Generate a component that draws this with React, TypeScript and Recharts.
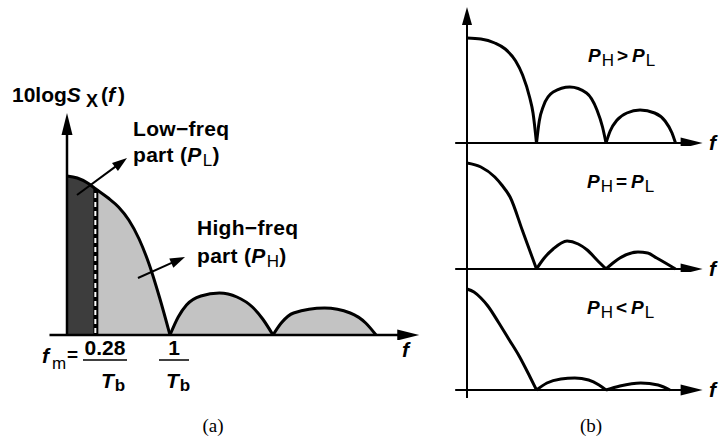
import React from 'react';
import { ComposedChart, Area, Line, XAxis, YAxis, ReferenceLine } from 'recharts';

// Panel (a): spectrum lobes, frequency in units of 1/Tb, level in plot units
const aLobe1Freq = [0, 0.1, 0.2, 0.28, 0.4, 0.5, 0.6, 0.7, 0.8, 0.9, 1.0];
const aLobe1Level = [159, 157, 152, 146, 137, 128, 115, 96, 70, 37, 0];
const aLobe2Freq = [1.0, 1.08, 1.16, 1.3, 1.48, 1.65, 1.8, 1.9, 2.0];
const aLobe2Level = [0, 18, 30, 39, 42, 38, 28, 16, 0];
const aLobe3Freq = [2.0, 2.08, 2.2, 2.5, 2.75, 2.9, 3.0];
const aLobe3Level = [0, 12, 22, 27, 22, 12, 0];
const fm = 0.28;

// Panel (b): three spectra with different high/low power balance
const b1Lobe1Freq = [0, 0.2, 0.4, 0.55, 0.7, 0.8, 0.9, 0.95, 1.0];
const b1Lobe1Level = [105, 104, 100, 94, 82, 68, 46, 30, 0];
const b1Lobe2Freq = [1.0, 1.04, 1.1, 1.24, 1.48, 1.72, 1.87, 1.95, 2.0];
const b1Lobe2Level = [0, 22, 37, 51, 56, 50, 33, 16, 0];
const b1Lobe3Freq = [2.0, 2.06, 2.16, 2.3, 2.49, 2.7, 2.85, 2.95, 3.0];
const b1Lobe3Level = [0, 12, 23, 30, 33, 30, 22, 10, 0];

const b2Lobe1Freq = [0, 0.2, 0.4, 0.5, 0.62, 0.8, 0.9, 1.0];
const b2Lobe1Level = [106, 102, 92, 84, 72, 38, 19, 0];
const b2Lobe2Freq = [1.0, 1.1, 1.24, 1.44, 1.6, 1.73, 1.87, 2.0];
const b2Lobe2Level = [0, 10, 20, 28, 25, 19, 9, 0];
const b2Lobe3Freq = [2.0, 2.1, 2.2, 2.46, 2.6, 2.73, 2.88, 3.0];
const b2Lobe3Level = [0, 6, 11, 17, 16, 11, 5, 0];

const b3Lobe1Freq = [0, 0.1, 0.2, 0.3, 0.45, 0.6, 0.75, 0.9, 1.0];
const b3Lobe1Level = [101, 98, 92, 84, 68, 51, 34, 14, 0];
const b3Lobe2Freq = [1.0, 1.15, 1.35, 1.55, 1.75, 1.9, 2.0];
const b3Lobe2Level = [0, 7, 11, 12, 10, 5, 0];
const b3Lobe3Freq = [2.0, 2.2, 2.5, 2.75, 2.92];
const b3Lobe3Level = [0, 4, 7, 5, 0];

const rows = (f: number[], v: number[]) => f.map((x, i) => ({ f: x, v: v[i] }));

const DARK = '#3d3d3d';
const LIGHT = '#c3c3c3';
const SANS = '"Liberation Sans", Arial, Helvetica, sans-serif';
const SERIF = '"Liberation Serif", "Times New Roman", serif';

// line with a filled arrowhead at (x2, y2)
const arrowShape = (w: number, head: number, half: number) => (p: any) => {
  const { x1, y1, x2, y2 } = p;
  const dx = x2 - x1;
  const dy = y2 - y1;
  const len = Math.hypot(dx, dy) || 1;
  const ux = dx / len;
  const uy = dy / len;
  const bx = x2 - ux * head;
  const by = y2 - uy * head;
  const pts = `${x2},${y2} ${bx - uy * half},${by + ux * half} ${bx + uy * half},${by - ux * half}`;
  return (
    <g>
      <line x1={x1} y1={y1} x2={bx + ux} y2={by + uy} stroke="#000" strokeWidth={w} />
      <polygon points={pts} fill="#000" />
    </g>
  );
};

const dashedMarker = (p: any) => {
  const { x1, y1, x2, y2 } = p;
  return (
    <g>
      <line x1={x1} y1={y1} x2={x2} y2={y2} stroke="#000" strokeWidth={5} />
      <line x1={x1 - 0.5} y1={y1 - 2} x2={x2 - 0.5} y2={y2 + 3} stroke="#fff" strokeWidth={2} strokeDasharray="5 4" />
    </g>
  );
};

const PanelA = () => {
  const lobe1 = rows(aLobe1Freq, aLobe1Level);
  const low = lobe1.filter((r) => r.f <= fm);
  const fmLevel = aLobe1Level[aLobe1Freq.indexOf(fm)];
  const lobes = [lobe1, rows(aLobe2Freq, aLobe2Level), rows(aLobe3Freq, aLobe3Level)];
  return (
    <div style={{ position: 'absolute', left: 40, top: 100 }}>
      <ComposedChart width={390} height={240} margin={{ top: 0, right: 0, bottom: 0, left: 0 }}>
        <XAxis type="number" dataKey="f" domain={[-0.2621, 3.5243]} hide allowDataOverflow />
        <YAxis type="number" domain={[-5, 235]} hide allowDataOverflow />
        {lobes.map((d, i) => (
          <Area key={`fill${i}`} data={d} dataKey="v" type="monotone" fill={LIGHT} fillOpacity={1} stroke="none" isAnimationActive={false} />
        ))}
        <Area data={low} dataKey="v" type="monotone" fill={DARK} fillOpacity={1} stroke="none" isAnimationActive={false} />
        <ReferenceLine segment={[{ x: fm, y: 0 }, { x: fm, y: fmLevel }]} ifOverflow="visible" shape={dashedMarker} />
        {lobes.map((d, i) => (
          <Line key={`line${i}`} data={d} dataKey="v" type="monotone" stroke="#000" strokeWidth={3} dot={false} isAnimationActive={false} />
        ))}
        <ReferenceLine segment={[{ x: -0.17, y: 0 }, { x: 3.42, y: 0 }]} ifOverflow="visible" shape={arrowShape(2.5, 22, 5.5)} />
        <ReferenceLine segment={[{ x: 0, y: 0 }, { x: 0, y: 222 }]} ifOverflow="visible" shape={arrowShape(2.5, 22, 5.5)} />
        <ReferenceLine segment={[{ x: 0.097, y: 140 }, { x: 0.583, y: 177 }]} ifOverflow="visible" shape={arrowShape(2, 15, 5)} />
        <ReferenceLine segment={[{ x: 0.689, y: 57 }, { x: 1.146, y: 78 }]} ifOverflow="visible" shape={arrowShape(2, 15, 5)} />
      </ComposedChart>
    </div>
  );
};

type SmallProps = {
  top: number;
  height: number;
  yDomain: [number, number];
  yAxis: [number, number];
  arrowUp: boolean;
  lobes: { f: number; v: number }[][];
};

const SmallSpectrum = ({ top, height, yDomain, yAxis, arrowUp, lobes }: SmallProps) => (
  <div style={{ position: 'absolute', left: 440, top }}>
    <ComposedChart width={283} height={height} margin={{ top: 0, right: 0, bottom: 0, left: 0 }}>
      <XAxis type="number" dataKey="f" domain={[-0.3885, 3.6835]} hide allowDataOverflow />
      <YAxis type="number" domain={yDomain} hide allowDataOverflow />
      <ReferenceLine segment={[{ x: -0.17, y: 0 }, { x: 3.39, y: 0 }]} ifOverflow="visible" shape={arrowShape(2, 22, 5.5)} />
      {arrowUp ? (
        <ReferenceLine segment={[{ x: 0, y: yAxis[0] }, { x: 0, y: yAxis[1] }]} ifOverflow="visible" shape={arrowShape(2, 18, 5)} />
      ) : (
        <ReferenceLine segment={[{ x: 0, y: yAxis[0] }, { x: 0, y: yAxis[1] }]} ifOverflow="visible" stroke="#000" strokeWidth={2} />
      )}
      {lobes.map((d, i) => (
        <Line key={i} data={d} dataKey="v" type="monotone" stroke="#000" strokeWidth={3} dot={false} isAnimationActive={false} />
      ))}
    </ComposedChart>
  </div>
);

const bold = { fontFamily: SANS, fontWeight: 700, fill: '#000' } as const;

// P with subscript, e.g. P_H; the text after it must shift back up by `drop`
const PSub = ({ s, size, drop = 4, dx = 0 }: { s: string; size: number; drop?: number; dx?: number }) => (
  <>
    <tspan fontStyle="italic" dx={dx}>P</tspan>
    <tspan fontSize={size} fontWeight={400} dy={drop} dx={1}>{s}</tspan>
  </>
);

const Relation = ({ x, y, op }: { x: number; y: number; op: string }) => (
  <text x={x} y={y} fontSize={19} {...bold}>
    <PSub s="H" size={17} />
    <tspan dy={-4} dx={3}>{op}</tspan>
    <PSub s="L" size={17} dx={4} />
  </text>
);

const Labels = () => (
  <svg width={723} height={438} style={{ position: 'absolute', left: 0, top: 0, pointerEvents: 'none' }}>
    <text x={12} y={102} fontSize={21} {...bold}>
      10log<tspan fontStyle="italic">S</tspan>
      <tspan dx={5} dy={5} fontSize={18}>X</tspan>
      <tspan dy={-5} dx={3}>(</tspan>
      <tspan fontStyle="italic">f</tspan>
      <tspan dx={3}>)</tspan>
    </text>

    <text x={133} y={136} fontSize={21} letterSpacing={0.3} {...bold}>Low−freq</text>
    <text x={133} y={162} fontSize={21} letterSpacing={0.3} {...bold}>
      part (<PSub s="L" size={17} />
      <tspan dy={-4}>)</tspan>
    </text>
    <text x={197} y={235} fontSize={21} letterSpacing={0.3} {...bold}>High−freq</text>
    <text x={197} y={263} fontSize={21} letterSpacing={0.3} {...bold}>
      part (<PSub s="H" size={17} />
      <tspan dy={-4}>)</tspan>
    </text>

    <text x={402} y={357} fontSize={21} fontStyle="italic" {...bold}>f</text>

    <text x={42} y={363} fontSize={21} fontStyle="italic" {...bold}>f</text>
    <text x={52} y={369} fontSize={17} fontFamily={SANS}>m</text>
    <text x={67} y={361} fontSize={19} {...bold}>=</text>
    <text x={105} y={355} fontSize={21} textAnchor="middle" {...bold}>0.28</text>
    <line x1={83} y1={360} x2={127} y2={360} stroke="#000" strokeWidth={1.5} />
    <text x={101} y={388} fontSize={21} {...bold}>
      <tspan fontStyle="italic">T</tspan>
      <tspan fontSize={17} dy={3} dx={1}>b</tspan>
    </text>
    <text x={174} y={355} fontSize={21} textAnchor="middle" {...bold}>1</text>
    <line x1={159} y1={360} x2={189} y2={360} stroke="#000" strokeWidth={1.5} />
    <text x={166} y={388} fontSize={21} {...bold}>
      <tspan fontStyle="italic">T</tspan>
      <tspan fontSize={17} dy={3} dx={1}>b</tspan>
    </text>

    <Relation x={588} y={62} op=">" />
    <Relation x={587} y={188} op="=" />
    <Relation x={587} y={314} op="<" />

    <text x={709} y={150} fontSize={21} fontStyle="italic" {...bold}>f</text>
    <text x={709} y={276} fontSize={21} fontStyle="italic" {...bold}>f</text>
    <text x={709} y={397} fontSize={21} fontStyle="italic" {...bold}>f</text>

    <text x={213} y={432} fontSize={19} textAnchor="middle" fontFamily={SERIF}>(a)</text>
    <text x={591} y={432} fontSize={19} textAnchor="middle" fontFamily={SERIF}>(b)</text>
  </svg>
);

export default function App() {
  return (
    <div style={{ position: 'absolute', left: 0, top: 0, width: 723, height: 438, background: '#fff', overflow: 'hidden' }}>
      <PanelA />
      <SmallSpectrum
        top={0}
        height={146}
        yDomain={[-3, 143]}
        yAxis={[-3, 136]}
        arrowUp
        lobes={[rows(b1Lobe1Freq, b1Lobe1Level), rows(b1Lobe2Freq, b1Lobe2Level), rows(b1Lobe3Freq, b1Lobe3Level)]}
      />
      <SmallSpectrum
        top={146}
        height={126}
        yDomain={[-3, 123]}
        yAxis={[-3, 123]}
        arrowUp={false}
        lobes={[rows(b2Lobe1Freq, b2Lobe1Level), rows(b2Lobe2Freq, b2Lobe2Level), rows(b2Lobe3Freq, b2Lobe3Level)]}
      />
      <SmallSpectrum
        top={272}
        height={128}
        yDomain={[-10, 118]}
        yAxis={[-8, 118]}
        arrowUp={false}
        lobes={[rows(b3Lobe1Freq, b3Lobe1Level), rows(b3Lobe2Freq, b3Lobe2Level), rows(b3Lobe3Freq, b3Lobe3Level)]}
      />
      <Labels />
    </div>
  );
}
